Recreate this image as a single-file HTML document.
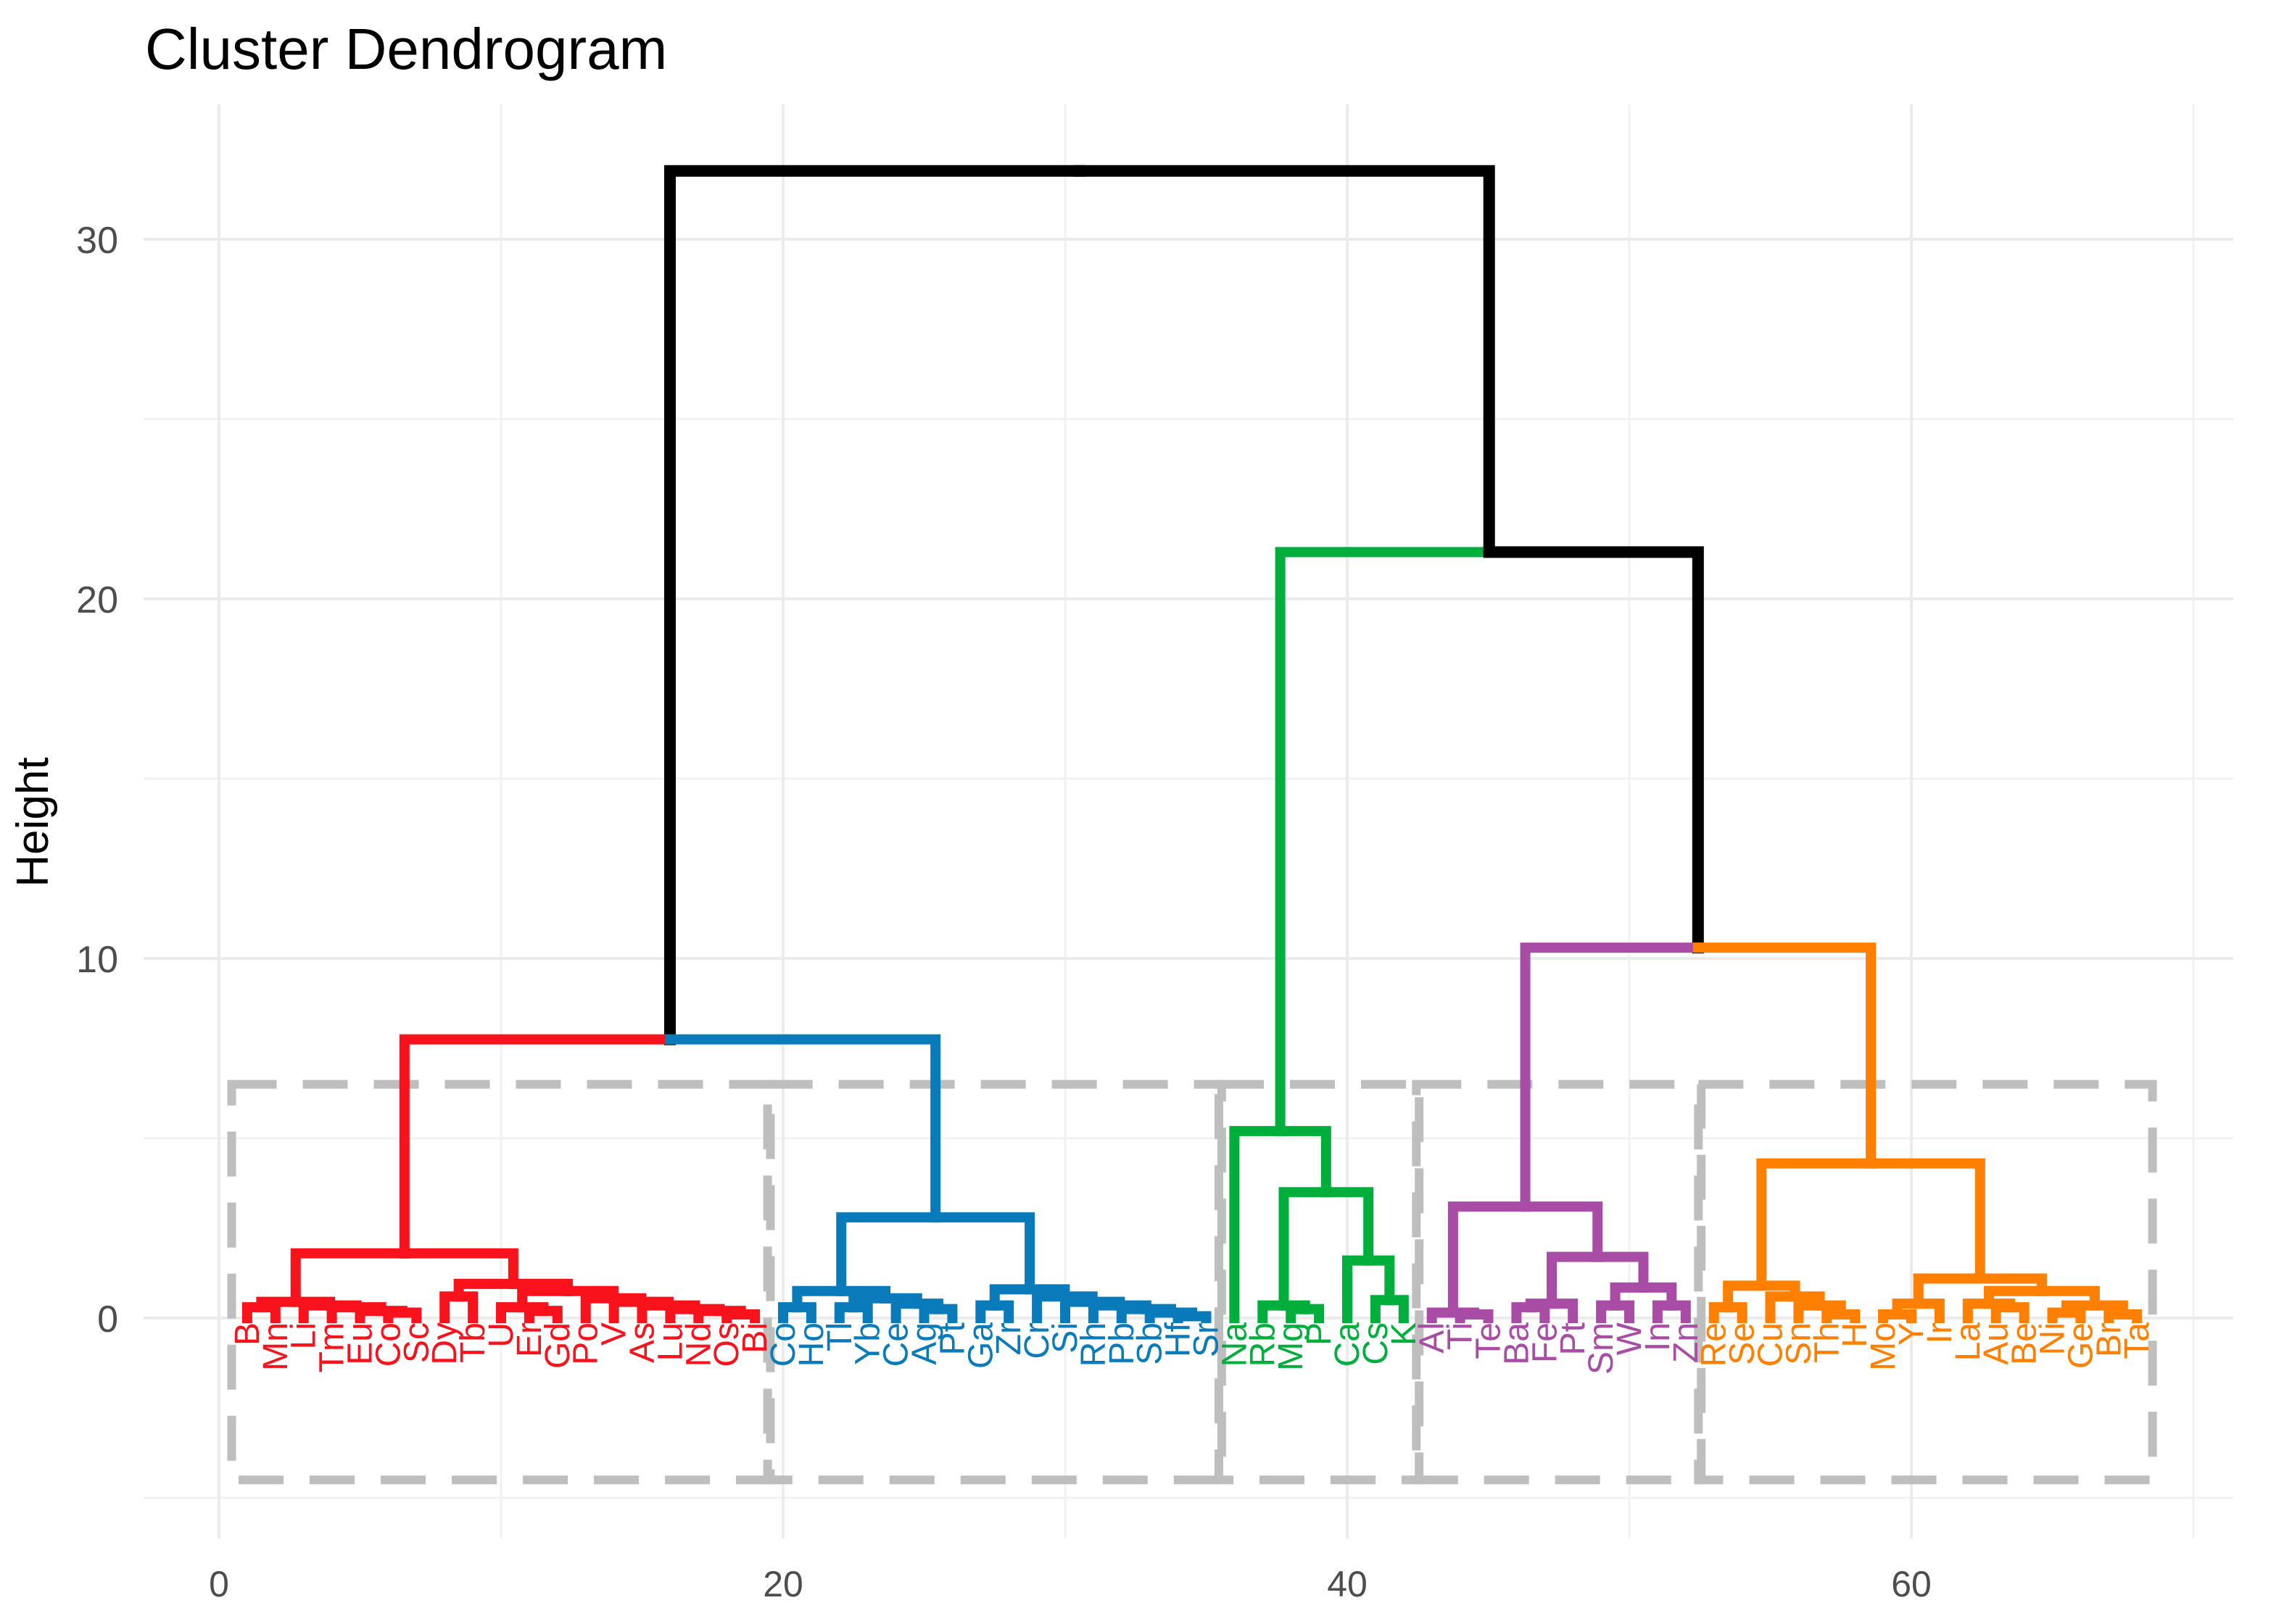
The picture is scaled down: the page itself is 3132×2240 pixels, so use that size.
<!DOCTYPE html>
<html><head><meta charset="utf-8">
<style>
html,body{margin:0;padding:0;background:#fff;}
svg{display:block;font-family:"Liberation Sans",Arial,sans-serif;}
</style></head>
<body>
<svg id="chart" width="3132" height="2240" viewBox="0 0 3132 2240" xmlns="http://www.w3.org/2000/svg">
<rect x="0" y="0" width="3132" height="2240" fill="#fff"/>
<text x="200" y="95" font-size="80" fill="#000">Cluster Dendrogram</text>
<text transform="translate(66,1134) rotate(-90)" text-anchor="middle" font-size="62" fill="#000">Height</text>
<g id="grid"></g>
<g id="rects"></g>
<g id="links"></g>
<g id="labels"></g>
<g id="ticks"></g>
</svg>
<script>
// ---- data ----
const xTicks = [0, 20, 40, 60];
const xMinor = [10, 30, 50, 70];
const yTicks = [0, 10, 20, 30];
const yMinor = [-5, 5, 15, 25];
const clusterColors = ["#F8131C", "#0A7BBA", "#00AE3C", "#A94CA6", "#FF7F00"];
const clusterTrees = [
  [1.8, [0.45, [0.3, "B", "Mn"], [0.35, "Li", [0.3, "Tm", [0.2, "Eu", [0.15, "Co", "Sc"]]]]],
        [0.95, [0.6, "Dy", "Tb"],
               [0.75, [0.3, "U", [0.2, "Er", "Gd"]],
                      [0.55, "Po", [0.45, "V", [0.35, "As", [0.25, "Lu", [0.2, "Nd", [0.1, "Os", "Bi"]]]]]]]]],
  [2.8, [0.75, [0.3, "Co", "Ho"], [0.55, [0.3, "Tl", "Yb"], [0.4, "Ce", [0.25, "Ag", "Pt"]]]],
        [0.8, [0.35, "Ga", "Zr"], [0.6, "Cr", [0.45, "Si", [0.35, "Rh", [0.25, "Pb", [0.15, "Sb", [0.05, "Hf", "Sr"]]]]]]]],
  [5.2, "Na", [3.5, [0.35, "Rb", [0.25, "Mg", "P"]], [1.6, "Ca", [0.5, "Cs", "K"]]]],
  [3.1, [0.15, "Al", [0.1, "Ti", "Te"]],
        [1.7, [0.4, [0.3, "Ba", "Fe"], "Pt"], [0.85, [0.35, "Sm", "W"], [0.35, "In", "Zn"]]]],
  [4.3, [0.9, [0.3, "Re", "Se"], [0.6, "Cu", [0.35, "Sn", [0.1, "Th", "H"]]]],
        [1.1, [0.4, [0.1, "Mo", "Y"], "Ir"], [0.75, [0.4, "La", [0.3, "Au", "Be"]], [0.35, [0.15, "Ni", "Ge"], [0.1, "Br", "Ta"]]]]]
];
const topHeights = [31.9, 7.75, 21.3, 10.3];
const rectBottom = -4.5;
const rectTop = 6.5;

// ---- scales ----
const X0 = 302, XS = 38.9, Y0 = 1818, YS = 49.6;
const xs = v => X0 + v * XS;
const ys = v => Y0 - v * YS;
const NS = "http://www.w3.org/2000/svg";
function mk(tag, attrs, parent) {
  const e = document.createElementNS(NS, tag);
  for (const k in attrs) e.setAttribute(k, attrs[k]);
  parent.appendChild(e);
  return e;
}
const grid = document.getElementById('grid');
const PL = 198, PR = 3080, PT = 144, PB = 2122;
xMinor.forEach(v => {
  const l = mk('line', {x1: xs(v), x2: xs(v), y1: PT, y2: PB, stroke: '#F2F2F2', 'stroke-width': 3}, grid);
  
  
});
yMinor.forEach(v => {
  const l = mk('line', {x1: PL, x2: PR, y1: ys(v), y2: ys(v), stroke: '#F2F2F2', 'stroke-width': 3}, grid);
  
  
});
xTicks.forEach(v => {
  const l = mk('line', {x1: xs(v), x2: xs(v), y1: PT, y2: PB, stroke: '#EBEBEB', 'stroke-width': 4}, grid);
  
  
});
yTicks.forEach(v => {
  const l = mk('line', {x1: PL, x2: PR, y1: ys(v), y2: ys(v), stroke: '#EBEBEB', 'stroke-width': 4}, grid);
  
  
});
const ticks = document.getElementById('ticks');
xTicks.forEach(v => {
  const t = mk('text', {x: xs(v), y: 2202, 'text-anchor': 'middle', 'font-size': 50, fill: '#4D4D4D'}, ticks);
  t.textContent = v;
  
  
});
yTicks.forEach(v => {
  const t = mk('text', {x: 163, y: ys(v) + 19, 'text-anchor': 'end', 'font-size': 52, fill: '#4D4D4D'}, ticks);
  t.textContent = v;
  
  
});

// ---- layout tree ----
let leafIdx = 0;
function layout(node, color, leaves) {
  if (typeof node === 'string') {
    leafIdx += 1;
    const o = {x: leafIdx, h: 0, label: node, color: color};
    leaves.push(o);
    return o;
  }
  const l = layout(node[1], color, leaves);
  const r = layout(node[2], color, leaves);
  return {x: (l.x + r.x) / 2, h: node[0], kids: [l, r], color: color};
}
const clusters = [];
const allLeaves = [];
clusterTrees.forEach((t, i) => {
  const leaves = [];
  const n = layout(t, clusterColors[i], leaves);
  n.leaves = leaves;
  clusters.push(n);
  leaves.forEach(lf => allLeaves.push(lf));
});
const rb = {x: (clusters[0].x + clusters[1].x) / 2, h: topHeights[1], kids: [clusters[0], clusters[1]], color: '#000'};
const po = {x: (clusters[3].x + clusters[4].x) / 2, h: topHeights[3], kids: [clusters[3], clusters[4]], color: '#000'};
const gpo = {x: (clusters[2].x + po.x) / 2, h: topHeights[2], kids: [clusters[2], po], color: '#000'};
const root = {x: (rb.x + gpo.x) / 2, h: topHeights[0], kids: [rb, gpo], color: '#000'};

// ---- rectangles ----
const rects = document.getElementById('rects');
clusters.forEach((c, i) => {
  const a = c.leaves[0].x - 0.55, b = c.leaves[c.leaves.length - 1].x + 0.55;
  const r = mk('rect', {x: xs(a), y: ys(rectTop), width: xs(b) - xs(a), height: ys(rectBottom) - ys(rectTop),
    fill: 'none', stroke: '#BEBEBE', 'stroke-width': 12, 'stroke-dasharray': '62 36'}, rects);
  
  
});

// ---- links ----
const links = document.getElementById('links');
function drawLinks(node) {
  if (!node.kids) return;
  node.kids.forEach(k => {
    const w = k.color === '#000' ? 16 : 14;
    const p = mk('path', {d: `M${xs(node.x)},${ys(node.h)} H${xs(k.x)} V${ys(k.h)}`, fill: 'none', stroke: k.color,
      'stroke-width': w, 'stroke-linecap': 'square', 'stroke-linejoin': 'miter'}, links);
    
    
    drawLinks(k);
  });
}
drawLinks(root);

// ---- leaf labels ----
const labels = document.getElementById('labels');
allLeaves.forEach(lf => {
  const t = mk('text', {transform: `translate(${xs(lf.x) + 16},${Y0 + 6}) rotate(-90)`, 'text-anchor': 'end',
    'font-size': 48, fill: lf.color}, labels);
  t.textContent = lf.label;
  
  
});
</script>
</body></html>
